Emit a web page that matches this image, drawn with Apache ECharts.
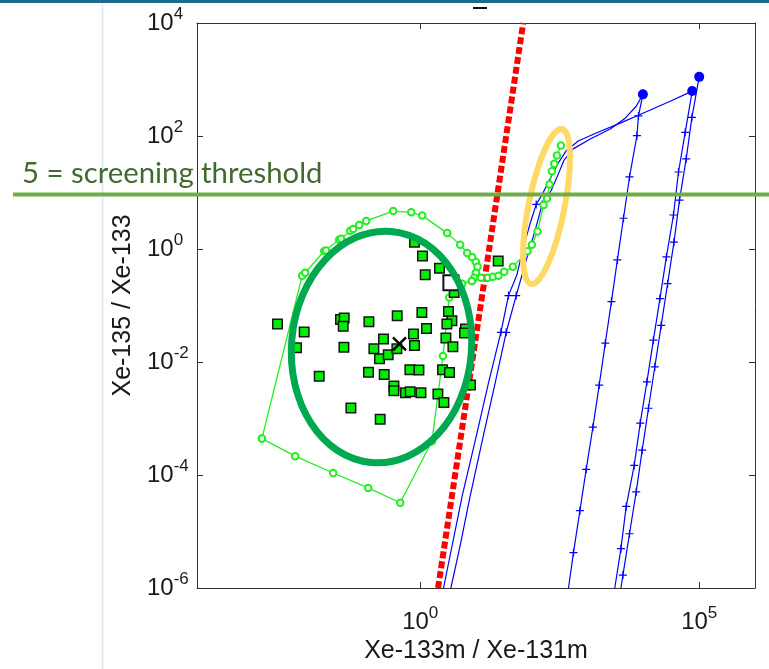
<!DOCTYPE html>
<html><head><meta charset="utf-8">
<script src="https://cdn.jsdelivr.net/npm/echarts@6/dist/echarts.min.js"></script>
<style>html,body{margin:0;padding:0;background:#fff}#c{width:769px;height:669px}</style>
</head><body><div id="c"></div><script>
// Values are given as log10 exponents (decades) of [Xe-133m/Xe-131m, Xe-135/Xe-133]
const xTickValues = [1, 1e5];
const yTickValues = [1e-6, 1e-4, 1e-2, 1, 1e2, 1e4];
const xRange = [1e-4, 1e6];
const yRange = [1e-6, 1e4];

const greenSquares = [[-2.557,-1.328],[-2.079,-1.468],[-2.217,-1.749],[-1.810,-2.251],[-1.428,-1.246],[-1.362,-1.223],[-1.380,-1.368],[-1.367,-1.737],[-0.919,-1.286],[-0.412,-1.181],[0.030,-1.123],[0.113,-1.409],[-0.120,-1.504],[-0.102,-1.707],[-0.658,-1.591],[-0.830,-1.767],[-0.729,-1.942],[-0.573,-1.872],[-0.418,-1.767],[-0.927,-2.181],[-0.645,-2.223],[-0.185,-2.135],[-0.023,-2.140],[-0.471,-2.426],[-0.471,-2.509],[-0.263,-2.544],[-0.179,-2.526],[0.013,-2.544],[0.317,-2.567],[0.425,-2.719],[-1.242,-2.812],[-0.717,-3.012],[-0.102,0.118],[0.041,-0.123],[0.090,-0.456],[0.346,-0.339],[0.604,-0.567],[0.609,-0.772],[0.507,-1.105],[0.568,-1.268],[0.478,-1.328],[0.461,-1.574],[0.586,-1.732],[0.812,-1.416],[0.794,-1.486],[0.400,-2.135],[0.525,-2.188],[0.901,-2.409],[1.398,-0.211]];
const meanPoint = [[-0.371,-1.679]];
const openSquare = [[0.550,-0.596]];
const greenHull = [[-2.837,-3.356],[-2.115,-0.474],[-2.061,-0.421],[-1.720,-0.035],[-1.685,-0.026],[-1.452,0.163],[-1.416,0.181],[-1.254,0.321],[-1.201,0.356],[-1.093,0.426],[-0.968,0.496],[-0.484,0.672],[-0.161,0.649],[0.036,0.591],[0.484,0.281],[0.717,0.075],[0.842,-0.070],[0.932,-0.146],[0.998,-0.228],[1.027,-0.316],[0.998,-0.421],[0.968,-0.509],[0.927,-0.567],[0.753,-0.614],[0.627,-0.632],[0.520,-0.860],[0.407,-1.895],[0.210,-3.404],[-0.358,-4.491],[-0.932,-4.228],[-1.559,-3.965],[-2.240,-3.667],[-2.837,-3.356]];
const greenTrack = [[0.927,-0.567],[1.088,-0.509],[1.213,-0.509],[1.303,-0.491],[1.403,-0.474],[1.505,-0.404],[1.661,-0.316],[1.923,-0.040],[2.002,0.075],[2.102,0.311],[2.210,0.777],[2.271,0.895],[2.317,1.140],[2.360,1.374],[2.401,1.509],[2.450,1.654],[2.522,1.830]];
const redBoundary = [[0.32,-6],[1.846,4]];
const blueCurveA = [[3.991,2.737],[3.871,2.526],[3.674,2.316],[3.405,2.123],[3.047,1.947],[2.742,1.772],[2.581,1.579],[2.455,1.281],[2.348,1.035],[2.186,0.789],[2.061,0.333],[1.912,-0.158],[1.720,-0.825],[1.541,-1.474],[1.344,-2.368],[1.129,-3.316],[0.896,-4.368],[0.717,-5.246],[0.550,-6]];
const blueCurveAMarks = [[2.186,0.789],[1.720,-0.825],[1.541,-1.474]];
const blueCurveB = [[4.875,2.795],[4.480,2.614],[4.032,2.421],[3.584,2.228],[3.154,2.053],[2.832,1.912],[2.616,1.737],[2.455,1.491],[2.312,1.211],[2.186,0.965],[2.079,0.789],[1.971,0.456],[1.846,0.018],[1.733,-0.456],[1.582,-0.825],[1.446,-1.474],[1.224,-2.368],[1.004,-3.316],[0.753,-4.368],[0.418,-6]];
const blueCurveBMarks = [[2.079,0.789],[1.582,-0.825],[1.446,-1.474]];
const blueLineA = [[3.991,2.737],[3.912,2.356],[3.884,2.005],[3.751,1.275],[3.643,0.544],[3.534,-0.193],[3.427,-0.930],[3.317,-1.667],[3.208,-2.409],[3.095,-3.153],[2.975,-3.900],[2.862,-4.632],[2.747,-5.374],[2.658,-6]];
const blueLineB = [[4.875,2.795],[4.749,2.065],[4.629,1.363],[4.539,0.602],[4.412,-0.140],[4.296,-0.877],[4.179,-1.614],[4.063,-2.351],[3.943,-3.082],[3.835,-3.830],[3.692,-4.556],[3.597,-5.304],[3.487,-6]];
const blueLineC = [[5.0,3.047],[4.869,2.328],[4.767,1.596],[4.647,0.865],[4.548,0.123],[4.434,-0.614],[4.319,-1.351],[4.204,-2.088],[4.091,-2.819],[3.978,-3.561],[3.871,-4.298],[3.751,-5.040],[3.633,-5.772],[3.597,-6]];
const blueStarts = [[3.991,2.737],[4.875,2.795],[5.0,3.047]];

const xTitle = 'Xe-133m / Xe-131m';
const yTitle = 'Xe-135 / Xe-133';
const thresholdText = '5 = screening threshold';

const P = a => a.map(p => [Math.pow(10, p[0]), Math.pow(10, p[1])]);
const FONT = 'Liberation Sans';
const PLUS = 'path://M0,5L10,5M5,0L5,10';
const CROSS = 'path://M0,0L10,10M0,10L10,0';
const BLUE = '#0000ff';
const LGREEN = '#22ee22';

const fmt = v => '{b|10}{s|' + Math.round(Math.log10(v)) + '}';
const rich = {
  b: {fontFamily: FONT, fontSize: 24, color: '#1a1a1a', lineHeight: 34, verticalAlign: 'middle'},
  s: {fontFamily: FONT, fontSize: 17, color: '#1a1a1a', lineHeight: 14, verticalAlign: 'top'}
};
const axisLineStyle = {color: '#333', width: 1};

function xAx(pos, show) {
  return {
    type: 'log', logBase: 10, min: xRange[0], max: xRange[1], position: pos,
    axisLine: {show: true, onZero: false, lineStyle: axisLineStyle},
    axisTick: {show: true, inside: true, length: 6, customValues: xTickValues, lineStyle: axisLineStyle},
    axisLabel: {show: show, customValues: xTickValues, formatter: fmt, rich: rich, margin: 17},
    minorTick: {show: false}, splitLine: {show: false},
    name: show ? xTitle : '', nameLocation: 'middle', nameGap: 51,
    nameTextStyle: {fontFamily: FONT, fontSize: 25, color: '#1a1a1a'}
  };
}
function yAx(pos, show) {
  return {
    type: 'log', logBase: 10, min: yRange[0], max: yRange[1], position: pos,
    axisLine: {show: true, onZero: false, lineStyle: axisLineStyle},
    axisTick: {show: true, inside: true, length: 6, customValues: yTickValues, lineStyle: axisLineStyle},
    axisLabel: {show: show, customValues: yTickValues, formatter: fmt, rich: rich, margin: 50, align: 'left'},
    minorTick: {show: false}, splitLine: {show: false},
    name: show ? yTitle : '', nameLocation: 'middle', nameGap: 60,
    nameTextStyle: {fontFamily: FONT, fontSize: 25, color: '#1a1a1a'}
  };
}

const blueLine = (d) => ({type: 'line', data: P(d), symbol: 'none', lineStyle: {color: BLUE, width: 1.2}, z: 2});
const plusMarks = (d) => ({type: 'scatter', data: P(d), symbol: PLUS, symbolSize: 8,
  itemStyle: {color: BLUE, borderColor: BLUE, borderWidth: 1.2, opacity: 1}, z: 2});

// fit threshold font to the text width of the slide annotation
const ctx = document.createElement('canvas').getContext('2d');
ctx.font = '32px Lato';
const thrFs = 32 * 301 / ctx.measureText(thresholdText).width;

const chart = echarts.init(document.getElementById('c'), null, {renderer: 'canvas'});
chart.setOption({
  animation: false,
  backgroundColor: '#fff',
  textStyle: {fontFamily: FONT},
  grid: {left: 197, top: 23, width: 558, height: 570, containLabel: false},
  xAxis: [xAx('bottom', true), xAx('top', false)],
  yAxis: [yAx('left', true), yAx('right', false)],
  series: [
    blueLine(blueCurveA), blueLine(blueCurveB), blueLine(blueLineA), blueLine(blueLineB), blueLine(blueLineC),
    plusMarks(blueCurveAMarks), plusMarks(blueCurveBMarks),
    plusMarks(blueLineA.slice(1, -1)), plusMarks(blueLineB.slice(1, -1)), plusMarks(blueLineC.slice(1, -1)),
    {type: 'scatter', data: P(blueStarts), symbol: 'circle', symbolSize: 10, itemStyle: {color: BLUE, opacity: 1}, z: 3},
    {type: 'line', data: P(redBoundary), symbol: 'none', lineStyle: {color: '#ff0000', width: 6, type: [7, 3], cap: 'butt'}, z: 3},
    {type: 'line', data: P(greenHull), symbol: 'emptyCircle', symbolSize: 6.5, showAllSymbol: true,
      lineStyle: {color: LGREEN, width: 1.3}, itemStyle: {color: LGREEN, borderWidth: 1.2}, z: 4},
    {type: 'line', data: P(greenTrack), symbol: 'emptyCircle', symbolSize: 6.5, showAllSymbol: true,
      lineStyle: {color: LGREEN, width: 1.3}, itemStyle: {color: LGREEN, borderWidth: 1.2}, z: 4},
    {type: 'scatter', data: P(greenSquares), symbol: 'rect', symbolSize: 9.5,
      itemStyle: {color: '#00ee00', borderColor: '#151515', borderWidth: 1.5, opacity: 1}, z: 5},
    {type: 'scatter', data: P(meanPoint), symbol: CROSS, symbolSize: 13,
      itemStyle: {color: '#000', borderColor: '#000', borderWidth: 2.5, opacity: 1}, z: 6},
    {type: 'scatter', data: P(openSquare), symbol: 'emptyRect', symbolSize: 15,
      itemStyle: {color: '#111', borderWidth: 2, opacity: 1}, z: 6}
  ],
  graphic: [
    {type: 'rect', shape: {x: 0, y: 0, width: 769, height: 3}, style: {fill: '#1e6a8d'}, z: 100},
    {type: 'line', shape: {x1: 102.5, y1: 3, x2: 102.5, y2: 669}, style: {stroke: '#dce8f4', lineWidth: 1.5}, z: 100},
    {type: 'line', shape: {x1: 473, y1: 8, x2: 487, y2: 8}, style: {stroke: '#111', lineWidth: 2}, z: 100},
    {type: 'ellipse', x: 381.5, y: 347, rotation: -0.085, shape: {cx: 0, cy: 0, rx: 90, ry: 116},
      style: {fill: 'none', stroke: '#00a850', lineWidth: 7}, z: 100},
    {type: 'ellipse', x: 546.5, y: 206.5, rotation: -0.197, shape: {cx: 0, cy: 0, rx: 18, ry: 79},
      style: {fill: 'none', stroke: '#ffd966', lineWidth: 6}, z: 100},
    {type: 'line', shape: {x1: 13, y1: 194.5, x2: 769, y2: 194.5}, style: {stroke: '#70ad47', lineWidth: 4}, z: 101},
    {type: 'text', x: 22, y: 174, style: {text: thresholdText, font: thrFs.toFixed(1) + 'px Lato', fill: '#43692f', verticalAlign: 'middle', align: 'left'}, z: 102}
  ]
});
</script></body></html>
